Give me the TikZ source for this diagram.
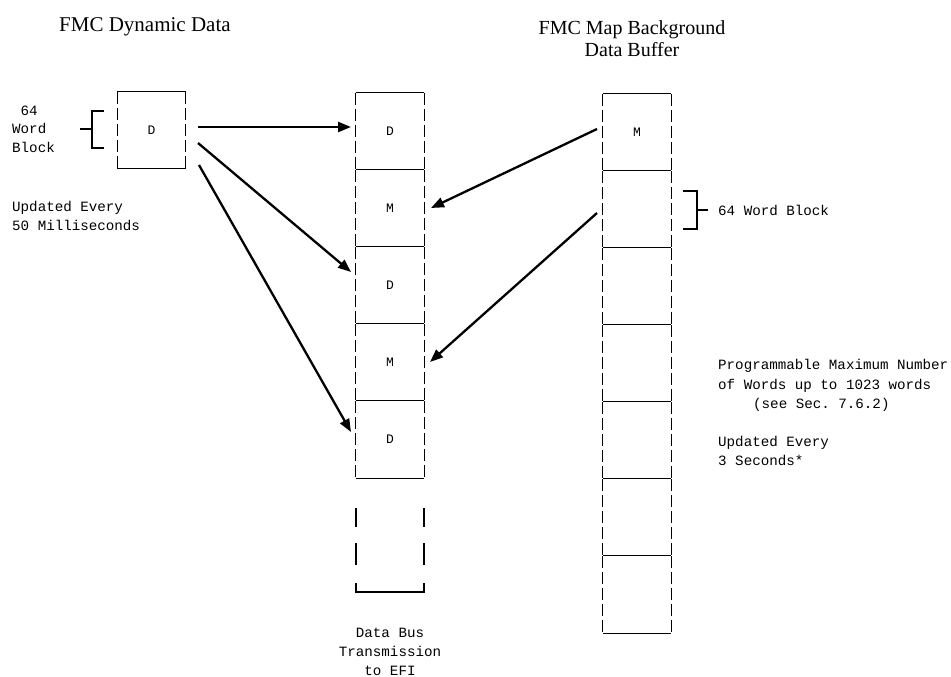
\documentclass[tikz,border=0pt]{standalone}
\usepackage{fontspec}
\setmainfont{Liberation Serif}
\setmonofont{Liberation Mono}
\usetikzlibrary{arrows.meta}
\begin{document}
\begin{tikzpicture}[x=1pt,y=-1pt,
 title/.style={font=\rmfamily\fontsize{21}{16}\selectfont, inner sep=0, anchor=base},
 txt/.style={font=\ttfamily\fontsize{14.2}{19}\selectfont, inner sep=0, anchor=base west},
 txtc/.style={font=\ttfamily\fontsize{14.2}{19}\selectfont, inner sep=0, anchor=base},
 lbl/.style={font=\ttfamily\fontsize{13}{15}\selectfont, inner sep=0},
 cellbox/.style={minimum width=68pt, minimum height=77pt, inner sep=0, draw=none},
 solidln/.style={line width=1.3pt},
 dashln/.style={line width=1.3pt, dash pattern=on 12pt off 4pt},
 arr/.style={line width=2.3pt, -{Triangle[length=13pt,width=10pt]}}]
\useasboundingbox[fill=white] (0,0) rectangle (951,677);

% titles
\node[title, anchor=base west] (t1) at (59,32) {FMC Dynamic Data};
\node[title, font=\rmfamily\fontsize{20}{16}\selectfont] (t2) at (632,35) {FMC Map Background};
\node[title, font=\rmfamily\fontsize{20}{16}\selectfont] (t3) at (632,57) {Data Buffer};

% left block
\node[cellbox, minimum height=76pt] (ld) at (151.5,130) {};
\node[lbl] (ldl) at (ld.center) {D};
\draw[solidln] (ld.north west) -- (ld.north east);
\draw[solidln] (ld.south west) -- (ld.south east);
\draw[dashln] (ld.north west) -- (ld.south west);
\draw[dashln] (ld.north east) -- (ld.south east);
% left bracket
\draw[solidln] (104,111) -- (92,111) -- (92,148) -- (104,148);
\draw[solidln] (80,129) -- (92,129);
\node[txt] (w1) at (20.5,115) {64};
\node[txt] (w2) at (12,133) {Word};
\node[txt] (w3) at (12,152) {Block};
\node[txt] (u1) at (12,211) {Updated Every};
\node[txt] (u2) at (12,230) {50 Milliseconds};

% middle column
\foreach \k/\t in {1/D,2/M,3/D,4/M,5/D}{
  \node[cellbox] (m\k) at (390,{93+38.5+77*(\k-1)}) {};
  \node[lbl] at (m\k.center) {\t};
  \draw[solidln] (m\k.north west) -- (m\k.north east);
  \draw[dashln] (m\k.north west) -- (m\k.south west);
  \draw[dashln] (m\k.north east) -- (m\k.south east);
}
\draw[solidln] (m5.south west) -- (m5.south east);
\coordinate (mbl) at (356,592);
\coordinate (mbr) at (424,592);
\foreach \xx in {356,424}{
  \draw[solidln] (\xx,508) -- (\xx,527);
  \draw[solidln] (\xx,543) -- (\xx,565);
}
\draw[solidln] (356,583) -- (mbl) -- (mbr) -- (424,583);
\node[txtc] (b1) at (390,637) {Data Bus};
\node[txtc] (b2) at (390,656) {Transmission};
\node[txtc] (b3) at (390,675) {to EFI};

% right column
\foreach \k in {1,...,7}{
  \node[cellbox] (r\k) at (637,{94+38.5+77*(\k-1)}) {};
  \draw[solidln] (r\k.north west) -- (r\k.north east);
  \draw[dashln] (r\k.north west) -- (r\k.south west);
  \draw[dashln] (r\k.north east) -- (r\k.south east);
}
\draw[solidln] (r7.south west) -- (r7.south east);
\node[lbl] (rml) at (r1.center) {M};
% right bracket
\draw[solidln] (683,191) -- (697,191) -- (697,229) -- (683,229);
\draw[solidln] (697,210) -- (708,210);
\node[txt] (rb) at (718,215) {64 Word Block};
\node[txt] (p1) at (718,369) {Programmable Maximum Number};
\node[txt] (p2) at (718,389) {of Words up to 1023 words};
\node[txt] (p3) at (753,408) {(see Sec. 7.6.2)};
\node[txt] (p4) at (718,446) {Updated Every};
\node[txt] (p5) at (718,465) {3 Seconds*};

% arrows
\coordinate (a1s) at (198,127); \coordinate (a1e) at (351,127);
\coordinate (a2s) at (198,143); \coordinate (a2e) at (351,272);
\coordinate (a3s) at (199,165); \coordinate (a3e) at (351,432);
\coordinate (a4s) at (597,129); \coordinate (a4e) at (431,208);
\coordinate (a5s) at (597,213); \coordinate (a5e) at (430,362);
\draw[arr] (a1s) -- (a1e);
\draw[arr] (a2s) -- (a2e);
\draw[arr] (a3s) -- (a3e);
\draw[arr] (a4s) -- (a4e);
\draw[arr] (a5s) -- (a5e);
\end{tikzpicture}
\end{document}
